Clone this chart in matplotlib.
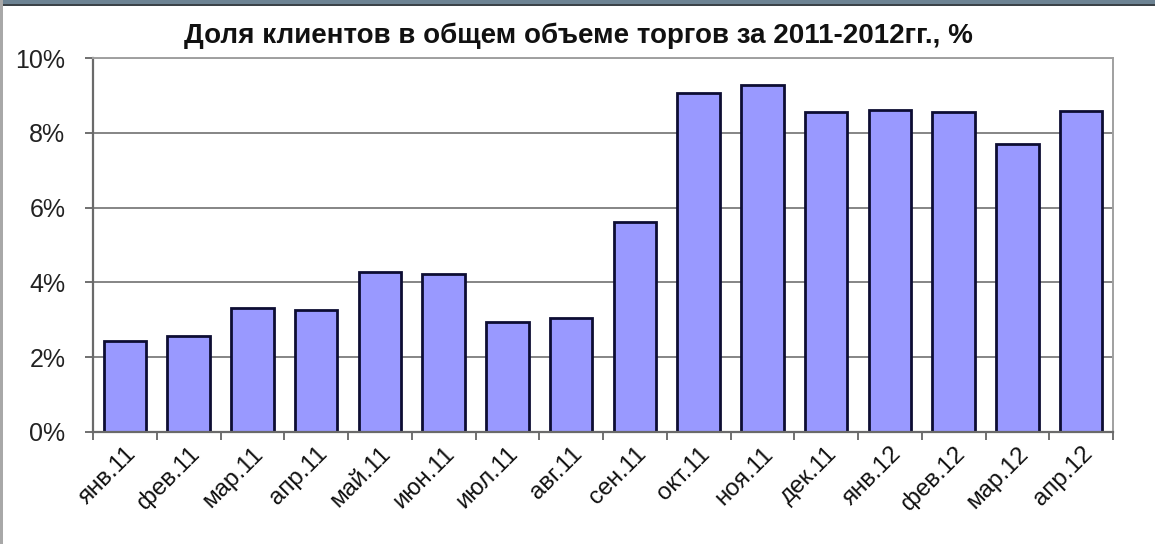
import matplotlib
matplotlib.use("Agg")
import matplotlib.pyplot as plt
from matplotlib.patches import Rectangle
from matplotlib.ticker import FixedLocator, PercentFormatter
from matplotlib.transforms import ScaledTranslation

months = ["янв.11", "фев.11", "мар.11", "апр.11", "май.11", "июн.11",
          "июл.11", "авг.11", "сен.11", "окт.11", "ноя.11", "дек.11",
          "янв.12", "фев.12", "мар.12", "апр.12"]
share_pct = [2.43, 2.56, 3.32, 3.27, 4.29, 4.21, 2.94, 3.05, 5.61,
             9.06, 9.29, 8.55, 8.61, 8.55, 7.70, 8.58]
title = "Доля клиентов в общем объеме торгов за 2011-2012гг., %"

plt.rcParams["font.family"] = ["Liberation Sans", "DejaVu Sans"]

fig = plt.figure(figsize=(11.55, 5.44), dpi=100)
fig.patch.set_facecolor("white")

# window frame: top band and left edge
fig.patches.append(Rectangle((0, 1 - 4 / 544), 1, 4 / 544, transform=fig.transFigure,
                             facecolor="#6d8393", edgecolor="none", zorder=0))
fig.patches.append(Rectangle((0, 1 - 5.5 / 544), 1, 1.5 / 544, transform=fig.transFigure,
                             facecolor="#3c4348", edgecolor="none", zorder=0))
fig.patches.append(Rectangle((0, 0), 2.5 / 1155, 1, transform=fig.transFigure,
                             facecolor="#a8a8a8", edgecolor="none", zorder=0))

ax = fig.add_axes([93 / 1155, 1 - 431.7 / 544, 1020 / 1155, 373.4 / 544])
x = list(range(len(months)))
ax.bar(x, share_pct, width=0.667, color="#9999ff", edgecolor="#0d0d33",
       linewidth=2.0, zorder=3)

ax.set_xlim(-0.5, len(months) - 0.5)
ax.set_ylim(0, 10)
ax.yaxis.set_major_locator(FixedLocator([0, 2, 4, 6, 8, 10]))
ax.yaxis.set_major_formatter(PercentFormatter(decimals=0))
ax.grid(axis="y", color="#858585", linewidth=1.4, zorder=1)
ax.set_axisbelow(True)

ax.set_xticks([i - 0.5 for i in range(len(months) + 1)], minor=False)
ax.set_xticklabels([])
ax.set_xticks(x, minor=True)
ax.set_xticklabels(months, minor=True, rotation=45, ha="right",
                   rotation_mode="anchor", fontsize=17.5, color="#111111")
shift = ScaledTranslation(18 / 100, 0, fig.dpi_scale_trans)
for lbl in ax.get_xticklabels(minor=True):
    lbl.set_transform(lbl.get_transform() + shift)
ax.tick_params(axis="x", which="minor", length=0, pad=8)
ax.tick_params(axis="x", which="major", length=5.5, width=1.4, color="#707070",
               direction="out")
ax.tick_params(axis="y", length=5.8, width=1.4, color="#707070", direction="out",
               labelsize=18, labelcolor="#222222", pad=14)

for side in ("top", "right"):
    ax.spines[side].set_color("#a0a0a0")
    ax.spines[side].set_linewidth(1.4)
ax.spines["left"].set_color("#6a6a6a")
ax.spines["left"].set_linewidth(1.6)
ax.spines["bottom"].set_color("#6a6a6a")
ax.spines["bottom"].set_linewidth(1.6)
ax.spines["bottom"].set_zorder(4)

fig.text(0.5 * (182 + 975) / 1155, 1 - 36 / 544, title, ha="center", va="center",
         fontsize=20, fontweight="bold", color="#111111")

fig.savefig("out.png", dpi=100, facecolor=fig.get_facecolor())
